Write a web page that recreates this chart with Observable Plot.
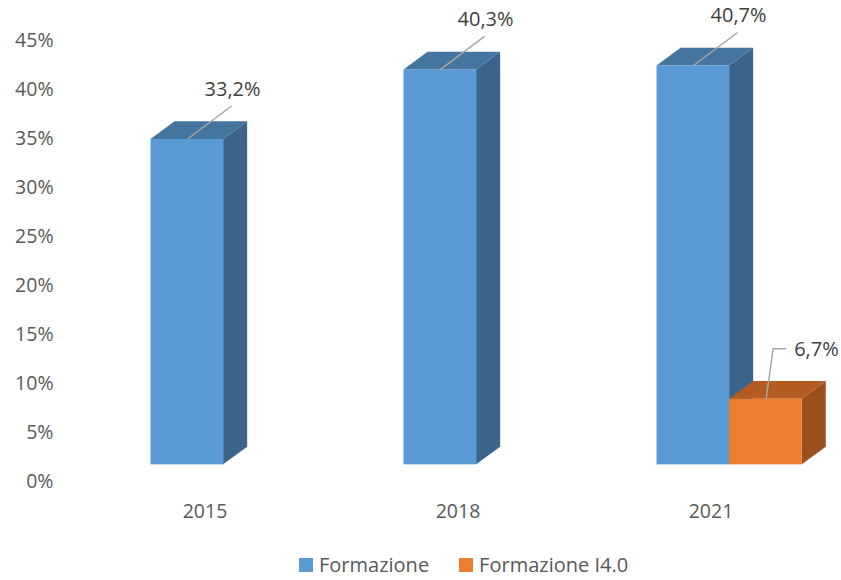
<!DOCTYPE html>
<html>
<head>
<meta charset="utf-8">
<script src="https://cdn.jsdelivr.net/npm/d3@7"></script>
<script src="https://cdn.jsdelivr.net/npm/@observablehq/plot@0.6"></script>
<style>
  body { margin: 0; background: #fff; font-family: "Open Sans", sans-serif; }
  #wrap { position: relative; width: 841px; height: 580px; overflow: hidden; }
  #legend { position: absolute; left: 299px; top: 554px; height: 22px; display: flex; align-items: center; font-size: 20px; line-height: 22px; color: #595959; }
  .item { display: flex; align-items: center; margin-right: 30px; }
  .sw { width: 14px; height: 14px; margin-right: 6px; }
  .lab { display: block; height: 22px; line-height: 22px; white-space: nowrap; }
</style>
</head>
<body>
<div id="wrap"><div id="chart"></div><div id="legend"></div></div>
<script>
const years = ["2015", "2018", "2021"];
const seriesNames = ["Formazione", "Formazione I4.0"];
const formazione = [33.2, 40.3, 40.7];
const formazioneI40 = [null, null, 6.7];
const yTicks = [0, 5, 10, 15, 20, 25, 30, 35, 40, 45];

const palette = {
  "Formazione": {front: "#5B9BD5", top: "#44759F", side: "#3A6489", leader: "diag"},
  "Formazione I4.0": {front: "#ED7D31", top: "#B35B20", side: "#9A4F1C", leader: "elbow"}
};

const rows = [];
years.forEach((yr, i) => {
  if (formazione[i] != null) rows.push({year: yr, series: seriesNames[0], value: formazione[i], k: 0});
  if (formazioneI40[i] != null) rows.push({year: yr, series: seriesNames[1], value: formazioneI40[i], k: 1});
});

const fmt = v => v.toFixed(1).replace(".", ",") + "%";

function bars3d(index, scales) {
  const x = scales.x, y = scales.y;
  const bw = x.bandwidth ? x.bandwidth() : 253;
  const barW = bw * 0.287;
  const depthX = bw * 0.095, depthY = bw * 0.07;
  const lift = (y(0) - y(1.7));
  const g = d3.create("svg:g");
  for (const r of rows) {
    const c = x(r.year) + bw / 2;
    const x0 = c - bw * 0.2134 + r.k * barW;
    const x1 = x0 + barW;
    const yb = y(0) - lift, yt = y(r.value) - lift;
    const col = palette[r.series];
    g.append("path").attr("fill", col.side)
      .attr("d", `M${x1},${yb}L${x1 + depthX},${yb - depthY}L${x1 + depthX},${yt - depthY}L${x1},${yt}Z`);
    g.append("path").attr("fill", col.top)
      .attr("d", `M${x0},${yt}L${x1},${yt}L${x1 + depthX},${yt - depthY}L${x0 + depthX},${yt - depthY}Z`);
    g.append("rect").attr("fill", col.front)
      .attr("x", x0).attr("y", yt).attr("width", barW).attr("height", yb - yt);
    const lx = x0 + barW * 0.51;
    if (col.leader === "diag") {
      g.append("path").attr("stroke", "#A6A6A6").attr("stroke-width", 1.5).attr("fill", "none")
        .attr("d", `M${lx},${yt}L${lx + 44},${yt - 33}`);
      g.append("text").attr("x", lx + 45).attr("y", yt - 50).attr("dy", "0.35em")
        .attr("text-anchor", "middle").attr("fill", "#404040").attr("font-size", 20).text(fmt(r.value));
    } else {
      g.append("path").attr("stroke", "#A6A6A6").attr("stroke-width", 1.5).attr("fill", "none")
        .attr("d", `M${lx},${yt}L${lx + 7},${yt - 50}L${lx + 20},${yt - 50}`);
      g.append("text").attr("x", lx + 28).attr("y", yt - 50).attr("dy", "0.35em")
        .attr("text-anchor", "start").attr("fill", "#404040").attr("font-size", 20).text(fmt(r.value));
    }
  }
  return g.node();
}

const chart = Plot.plot({
  width: 841,
  height: 545,
  marginTop: 40,
  marginBottom: 64,
  marginLeft: 60,
  marginRight: 5,
  style: {fontFamily: "'Open Sans', sans-serif", fontSize: "19.5px", color: "#595959", background: "#fff"},
  x: {type: "band", domain: years, range: [77.5, 836.5], padding: 0},
  y: {domain: [0, 45]},
  marks: [
    Plot.axisY({ticks: yTicks, tickFormat: d => d + "%", tickSize: 0, tickPadding: 7, fontSize: 19.5, label: null}),
    Plot.axisX({tickSize: 0, tickPadding: 23, fontSize: 19.5, label: null}),
    bars3d
  ]
});
document.getElementById("chart").appendChild(chart);

const legend = d3.select("#legend");
seriesNames.forEach(s => {
  const it = legend.append("div").attr("class", "item");
  it.append("div").attr("class", "sw").style("background", palette[s].front);
  it.append("div").attr("class", "lab").text(s);
});
</script>
</body>
</html>
